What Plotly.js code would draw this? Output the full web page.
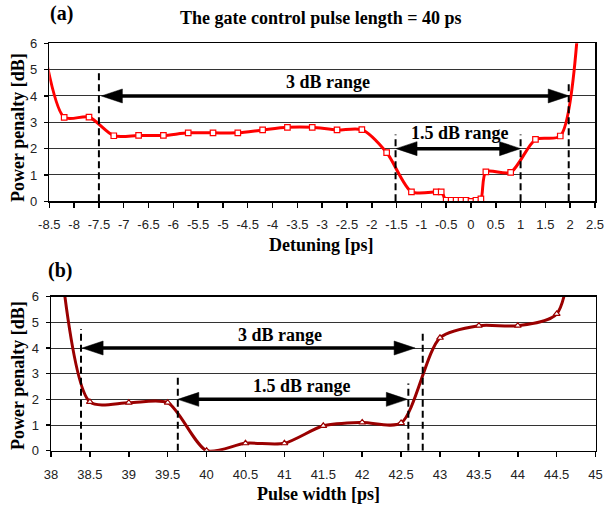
<!DOCTYPE html>
<html><head><meta charset="utf-8">
<script src="https://cdn.plot.ly/plotly-3.0.1.min.js"></script>
<style>html,body{margin:0;padding:0;background:#fff}#chart{width:605px;height:508px}</style>
</head><body><div id="chart"></div>
<script>
// ---- data: panel (a) ----
const detuning = [-8.7, -8.2, -7.7, -7.2, -6.7, -6.2, -5.7, -5.2, -4.7, -4.2, -3.7, -3.2, -2.7, -2.2, -1.7, -1.2, -0.7, -0.6, -0.5, -0.4, -0.3, -0.2, -0.1, 0.0, 0.1, 0.2, 0.3, 0.8, 1.3, 1.8, 2.15];
const penaltyA = [6.8, 3.19, 3.2, 2.49, 2.5, 2.5, 2.6, 2.6, 2.6, 2.71, 2.81, 2.81, 2.71, 2.72, 1.85, 0.36, 0.36, 0.36, 0.04, 0.04, 0.04, 0.04, 0.04, 0.0, 0.04, 0.09, 1.12, 1.1, 2.35, 2.48, 6.45];
const xTickValsA = [-8.5, -8, -7.5, -7, -6.5, -6, -5.5, -5, -4.5, -4, -3.5, -3, -2.5, -2, -1.5, -1, -0.5, 0, 0.5, 1, 1.5, 2, 2.5];
const xTickTextA = ["-8.5", "-8", "-7.5", "-7", "-6.5", "-6", "-5.5", "-5", "-4.5", "-4", "-3.5", "-3", "-2.5", "-2", "-1.5", "-1", "-0.5", "0", "0.5", "1", "1.5", "2", "2.5"];
const range3dB_A = [-7.45, 1.98];
const range15dB_A = [-1.51, 1.0];
const markersA = [-7.5, -1.52, 1.0, 1.97];
const markerTopsA = [4.95, 2.54, 2.54, 4.54];

// ---- data: panel (b) ----
const pulseWidth = [38.15, 38.5, 39.0, 39.5, 40.0, 40.5, 41.0, 41.5, 42.0, 42.5, 43.0, 43.5, 44.0, 44.5, 44.75];
const penaltyB = [6.7, 1.9, 1.87, 1.87, 0.0, 0.29, 0.29, 0.97, 1.1, 1.08, 4.4, 4.87, 4.87, 5.33, 9.6];
const xTickValsB = [38, 38.5, 39, 39.5, 40, 40.5, 41, 41.5, 42, 42.5, 43, 43.5, 44, 44.5, 45];
const range3dB_B = [38.4, 42.68];
const range15dB_B = [39.63, 42.58];
const markersB = [38.386, 39.63, 42.593, 42.778];
const markerTopsB = [4.74, 2.84, 2.62, 4.67];

const yTickVals = [0, 1, 2, 3, 4, 5, 6];

// ---- geometry ----
const W = 605, H = 508;
const A = {l: 49.3, r: 595, t: 43.3, b: 201.3, x0: -8.5, x1: 2.5};
const B = {l: 51, r: 595.6, t: 296.7, b: 450.7, x0: 38, x1: 45};
const pxA = (A.r - A.l) / (A.x1 - A.x0);
const pxB = (B.r - B.l) / (B.x1 - B.x0);

const shapes = [];
function arrow(xr, yr, xl, xrgt, y, ppu) {
  const inset = 14 / ppu;
  shapes.push({type: 'line', xref: xr, yref: yr, x0: xl + inset, x1: xrgt - inset, y0: y, y1: y,
    line: {color: '#000', width: 3.5}});
  shapes.push({type: 'path', xref: xr, yref: yr, xsizemode: 'pixel', ysizemode: 'pixel',
    xanchor: xl, yanchor: y, path: 'M0,0L21,7L21,-7Z', fillcolor: '#000', line: {color: '#000', width: 0.5}});
  shapes.push({type: 'path', xref: xr, yref: yr, xsizemode: 'pixel', ysizemode: 'pixel',
    xanchor: xrgt, yanchor: y, path: 'M0,0L-21,7L-21,-7Z', fillcolor: '#000', line: {color: '#000', width: 0.5}});
}
function vdash(xr, yr, xs, tops) {
  xs.forEach((x, i) => shapes.push({type: 'line', xref: xr, yref: yr, x0: x, x1: x, y0: 0, y1: tops[i],
    line: {color: '#000', width: 2, dash: '7px,4px'}}));
}
vdash('x', 'y', markersA, markerTopsA);
vdash('x2', 'y2', markersB, markerTopsB);
arrow('x', 'y', range3dB_A[0], range3dB_A[1], 4, pxA);
arrow('x', 'y', range15dB_A[0], range15dB_A[1], 2, pxA);
arrow('x2', 'y2', range3dB_B[0], range3dB_B[1], 4, pxB);
arrow('x2', 'y2', range15dB_B[0], range15dB_B[1], 2, pxB);

const serif = 'Liberation Serif, Times New Roman, serif';
const sans = 'Liberation Sans, Arial, sans-serif';
const bold = (s, size) => ({family: serif, size: size, color: '#000', weight: 'bold'});

const annotations = [
  {xref: 'paper', yref: 'paper', x: 61 / W, y: 1 - 14 / H, text: '<b>(a)</b>', showarrow: false, font: bold(0, 20), xanchor: 'center', yanchor: 'middle'},
  {xref: 'paper', yref: 'paper', x: 320.5 / W, y: 1 - 18 / H, text: '<b>The gate control pulse length = 40 ps</b>', showarrow: false, font: bold(0, 18), xanchor: 'center', yanchor: 'middle'},
  {xref: 'paper', yref: 'paper', x: 18 / W, y: 1 - 128 / H, text: '<b>Power penalty [dB]</b>', textangle: -90, showarrow: false, font: bold(0, 18), xanchor: 'center', yanchor: 'middle'},
  {xref: 'paper', yref: 'paper', x: 321 / W, y: 1 - 245 / H, text: '<b>Detuning [ps]</b>', showarrow: false, font: bold(0, 18), xanchor: 'center', yanchor: 'middle'},
  {xref: 'x', yref: 'y', x: -2.88, y: 4.53, text: '<b>3 dB range</b>', showarrow: false, font: bold(0, 18), xanchor: 'center', yanchor: 'middle'},
  {xref: 'x', yref: 'y', x: -0.23, y: 2.58, text: '<b>1.5 dB range</b>', showarrow: false, font: bold(0, 18), xanchor: 'center', yanchor: 'middle'},
  {xref: 'paper', yref: 'paper', x: 60 / W, y: 1 - 270 / H, text: '<b>(b)</b>', showarrow: false, font: bold(0, 20), xanchor: 'center', yanchor: 'middle'},
  {xref: 'paper', yref: 'paper', x: 18 / W, y: 1 - 376 / H, text: '<b>Power penalty [dB]</b>', textangle: -90, showarrow: false, font: bold(0, 18), xanchor: 'center', yanchor: 'middle'},
  {xref: 'paper', yref: 'paper', x: 318 / W, y: 1 - 494 / H, text: '<b>Pulse width [ps]</b>', showarrow: false, font: bold(0, 18), xanchor: 'center', yanchor: 'middle'},
  {xref: 'x2', yref: 'y2', x: 40.94, y: 4.51, text: '<b>3 dB range</b>', showarrow: false, font: bold(0, 18), xanchor: 'center', yanchor: 'middle'},
  {xref: 'x2', yref: 'y2', x: 41.23, y: 2.53, text: '<b>1.5 dB range</b>', showarrow: false, font: bold(0, 18), xanchor: 'center', yanchor: 'middle'}
];

const traces = [
  {x: detuning, y: penaltyA, xaxis: 'x', yaxis: 'y', type: 'scatter', mode: 'lines+markers',
   line: {color: '#ff0000', width: 3, shape: 'spline', smoothing: 0.75},
   marker: {symbol: 'square', size: 5.5, color: '#fff', line: {color: '#ff0000', width: 1.2}}},
  {x: pulseWidth, y: penaltyB, xaxis: 'x2', yaxis: 'y2', type: 'scatter', mode: 'lines+markers',
   line: {color: '#9a0000', width: 3, shape: 'spline', smoothing: 0.75},
   marker: {symbol: 'triangle-up', size: 6, color: '#fff', line: {color: '#9a0000', width: 1.2}}}
];

const tickfont = {family: sans, size: 13, color: '#222'};
const xCommon = {ticks: 'outside', ticklen: 5, tickwidth: 1.5, tickcolor: '#000', showline: true, linecolor: '#000', linewidth: 1.5,
  mirror: true, showgrid: false, zeroline: false, tickfont: tickfont, ticklabelstandoff: 6, fixedrange: true};
const yCommon = {range: [0, 6], tickvals: yTickVals, ticks: 'outside', ticklen: 4, tickwidth: 1.2, tickcolor: '#000', showline: true,
  linecolor: '#000', linewidth: 1.5, mirror: true, showgrid: true, gridcolor: '#333', gridwidth: 1, zeroline: false,
  tickfont: tickfont, ticklabelstandoff: 4, fixedrange: true};

const layout = {
  width: W, height: H, margin: {l: 0, r: 0, t: 0, b: 0}, showlegend: false,
  paper_bgcolor: '#fff', plot_bgcolor: '#fff',
  xaxis: Object.assign({}, xCommon, {domain: [A.l / W, A.r / W], range: [A.x0, A.x1], tickvals: xTickValsA, ticktext: xTickTextA, anchor: 'y'}),
  yaxis: Object.assign({}, yCommon, {domain: [1 - A.b / H, 1 - A.t / H], anchor: 'x'}),
  xaxis2: Object.assign({}, xCommon, {domain: [B.l / W, B.r / W], range: [B.x0, B.x1], tickvals: xTickValsB, anchor: 'y2'}),
  yaxis2: Object.assign({}, yCommon, {domain: [1 - B.b / H, 1 - B.t / H], anchor: 'x2'}),
  shapes: shapes, annotations: annotations
};
Plotly.newPlot('chart', traces, layout, {staticPlot: true, displayModeBar: false});
</script></body></html>
